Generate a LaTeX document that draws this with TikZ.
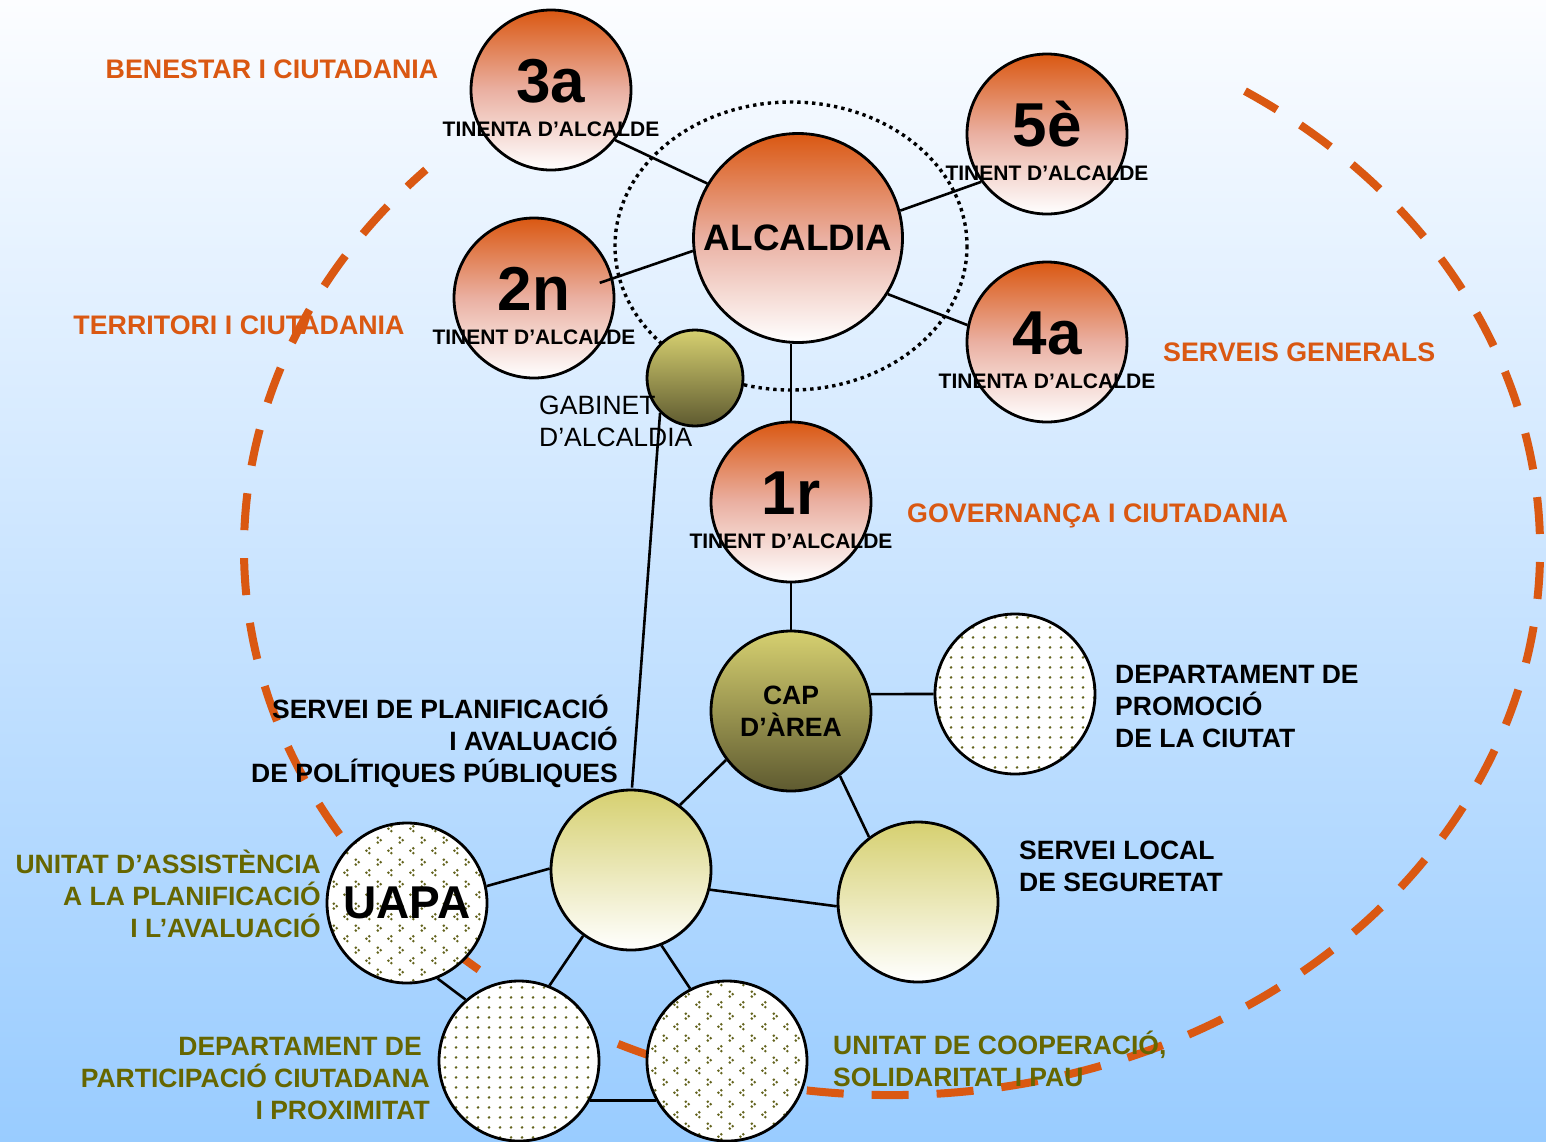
\documentclass[tikz,border=0pt]{standalone}
\usepackage{fontspec}
\setmainfont{Liberation Sans}
\usetikzlibrary{patterns,positioning}

\definecolor{orng}{RGB}{218,88,18}
\definecolor{pinkmid}{RGB}{234,176,162}
\definecolor{olvtop}{RGB}{214,208,112}
\definecolor{olvbot}{RGB}{94,90,48}
\definecolor{olvtxt}{RGB}{102,102,0}
\definecolor{olvdot}{RGB}{100,100,30}
\definecolor{bgtop}{RGB}{252,253,255}
\definecolor{bgbot}{RGB}{153,204,255}

\pgfdeclarepatternformonly{tinydots}{\pgfqpoint{0pt}{0pt}}{\pgfqpoint{11pt}{10pt}}{\pgfqpoint{11pt}{10pt}}{%
  \pgfpathcircle{\pgfqpoint{5.5pt}{5pt}}{1.55pt}\pgfusepath{fill}}
\pgfdeclarepatternformonly{chevrons}{\pgfqpoint{0pt}{0pt}}{\pgfqpoint{22pt}{22pt}}{\pgfqpoint{22pt}{22pt}}{%
  \pgfpathcircle{\pgfqpoint{4pt}{19pt}}{1.45pt}
  \pgfpathcircle{\pgfqpoint{7pt}{16.5pt}}{1.45pt}
  \pgfpathcircle{\pgfqpoint{4pt}{14pt}}{1.45pt}
  \pgfpathcircle{\pgfqpoint{18pt}{8pt}}{1.45pt}
  \pgfpathcircle{\pgfqpoint{15pt}{5.5pt}}{1.45pt}
  \pgfpathcircle{\pgfqpoint{18pt}{3pt}}{1.45pt}
  \pgfusepath{fill}}

\begin{document}
\begin{tikzpicture}[
    x=1pt, y=-1pt,
    ball/.style={circle, draw=black, line width=2.8pt, minimum size=160pt, inner sep=0pt},
    redball/.style={ball, top color=orng, bottom color=white, middle color=pinkmid},
    darkball/.style={ball, top color=olvtop, bottom color=olvbot},
    lightball/.style={ball, top color=olvtop, bottom color=white},
    dotball/.style={ball, preaction={fill=white}, pattern=tinydots, pattern color=olvdot},
    chevball/.style={ball, preaction={fill=white}, pattern=chevrons, pattern color=olvdot},
    link/.style={line width=2.6pt},
    num/.style={font=\fontsize{62}{62}\selectfont\bfseries, inner sep=0pt, anchor=base},
    tit/.style={font=\fontsize{21}{21}\selectfont\bfseries, inner sep=0pt, anchor=base},
    area/.style={font=\fontsize{26.8}{32}\selectfont\bfseries, text=orng, inner sep=0pt},
    lab/.style={font=\fontsize{26.5}{32}\selectfont\bfseries, inner sep=0pt},
    olab/.style={lab, text=olvtxt},
  ]
  \useasboundingbox (0,0) rectangle (1546,1141);
  \fill[top color=bgtop, bottom color=bgbot] (0,0) rectangle (1546,1141);

  % big dashed ring
  \draw[orng, line width=8pt, dash pattern=on 37pt off 28pt]
    (892,549) ++(-57:648 and 546) arc[start angle=-57, end angle=224, x radius=648, y radius=546];

  % alcaldia and tinents
  \node[redball, minimum size=209pt, font=\fontsize{36.8}{36.8}\selectfont\bfseries] (alc) at (798,238) {ALCALDIA};
  \node[redball] (three) at (551,90) {};
  \node[redball] (five) at (1047,134) {};
  \node[redball] (two) at (534,298) {};
  \node[redball] (four) at (1047,342) {};
  \node[redball] (one) at (791,502) {};

  \draw[line width=3.4pt, dash pattern=on 3.4pt off 4pt] (791,246) ellipse [x radius=176, y radius=144];

  \node[darkball, minimum size=96pt] (gab) at (695,378) {};
  \node[darkball, align=center, font=\fontsize{26.5}{32}\selectfont\bfseries] (cap) at (791,711) {CAP\\D’ÀREA};
  \node[lightball] (plan) at (631,870) {};
  \node[lightball] (seg) at (918,902) {};
  \node[dotball] (prom) at (1015,694) {};
  \node[chevball, font=\fontsize{46}{46}\selectfont\bfseries] (uapa) at (407,903) {UAPA};
  \node[dotball] (part) at (519,1061) {};
  \node[chevball] (coop) at (727,1061) {};

  % connectors
  \draw[link] (three.-38) -- (alc.149);
  \draw[link, shorten <=-14pt] (two.14) -- (alc.187);
  \draw[link] (alc.15) -- (five.216);
  \draw[link] (alc.-32) -- (four.168);
  \draw[link] (one.north) -- (one.north |- alc.south);
  \draw[link] (one.south) -- (cap.north);
  \draw[link] (cap.12) -- (prom.west);
  \draw[link] (cap.217) -- (plan.53);
  \draw[link] (cap.-53) -- (seg.127);
  \draw[link] (plan.179) -- (uapa.12);
  \draw[link] (plan.-14) -- (seg.183);
  \draw[link] (plan.234) -- (part.68);
  \draw[link] (plan.-68) -- (coop.117);
  \draw[link] (uapa.-68) -- (part.131);
  \draw[link] (part.-29) -- (coop.209);

  % numbers and titles
  \node[num] (threen) at ([yshift=-12pt]three.center) {3a};
  \node[tit] (threet) at ([yshift=-46.5pt]three.center) {TINENTA D’ALCALDE};
  \node[num] (twon) at ([yshift=-12pt]two.center) {2n};
  \node[tit] (twot) at ([yshift=-46.5pt]two.center) {TINENT D’ALCALDE};
  \node[num] (fiven) at ([yshift=-12pt]five.center) {5è};
  \node[tit] (fivet) at ([yshift=-46.5pt]five.center) {TINENT D’ALCALDE};
  \node[num] (fourn) at ([yshift=-12pt]four.center) {4a};
  \node[tit] (fourt) at ([yshift=-46.5pt]four.center) {TINENTA D’ALCALDE};
  \node[num] (onen) at ([yshift=-12pt]one.center) {1r};
  \node[tit] (onet) at ([yshift=-46.5pt]one.center) {TINENT D’ALCALDE};

  % area names
  \node[area, anchor=base] (benestar) at (272,78.5) {BENESTAR I CIUTADANIA};
  \node[area, anchor=base] (territori) at (239,334.5) {TERRITORI I CIUTADANIA};
  \node[area, anchor=base west] (generals) at (1163,361.5) {SERVEIS GENERALS};
  \node[area, anchor=base west] (governanca) at (907,522.5) {GOVERNANÇA I CIUTADANIA};

  % unit labels
  \node[lab, font=\fontsize{26.5}{32}\selectfont, align=left, anchor=west] (gabl) at (539,421) {GABINET\\D’ALCALDIA};
  \node[lab, align=right, anchor=east] (planl) at (618,741) {SERVEI DE PLANIFICACIÓ\hspace*{9pt}\\I AVALUACIÓ\\DE POLÍTIQUES PÚBLIQUES};
  \node[lab, align=left, anchor=west] (proml) at (1115,706) {DEPARTAMENT DE\\PROMOCIÓ\\DE LA CIUTAT};
  \node[lab, align=left, anchor=west] (segl) at (1019,866) {SERVEI LOCAL\\DE SEGURETAT};
  \node[olab, align=right, anchor=east] (uapal) at (321,894) {UNITAT D’ASSISTÈNCIA\\A LA PLANIFICACIÓ\\I L’AVALUACIÓ};
  \node[olab, align=right, anchor=east] (partl) at (430,1078) {DEPARTAMENT DE\hspace*{8pt}\\PARTICIPACIÓ CIUTADANA\\I PROXIMITAT};
  \node[olab, align=left, anchor=west] (coopl) at (833,1059) {UNITAT DE COOPERACIÓ,\\SOLIDARITAT I PAU};

  \draw[link] (gab.south west) -- ([xshift=14pt]planl.south east);
\end{tikzpicture}
\end{document}
